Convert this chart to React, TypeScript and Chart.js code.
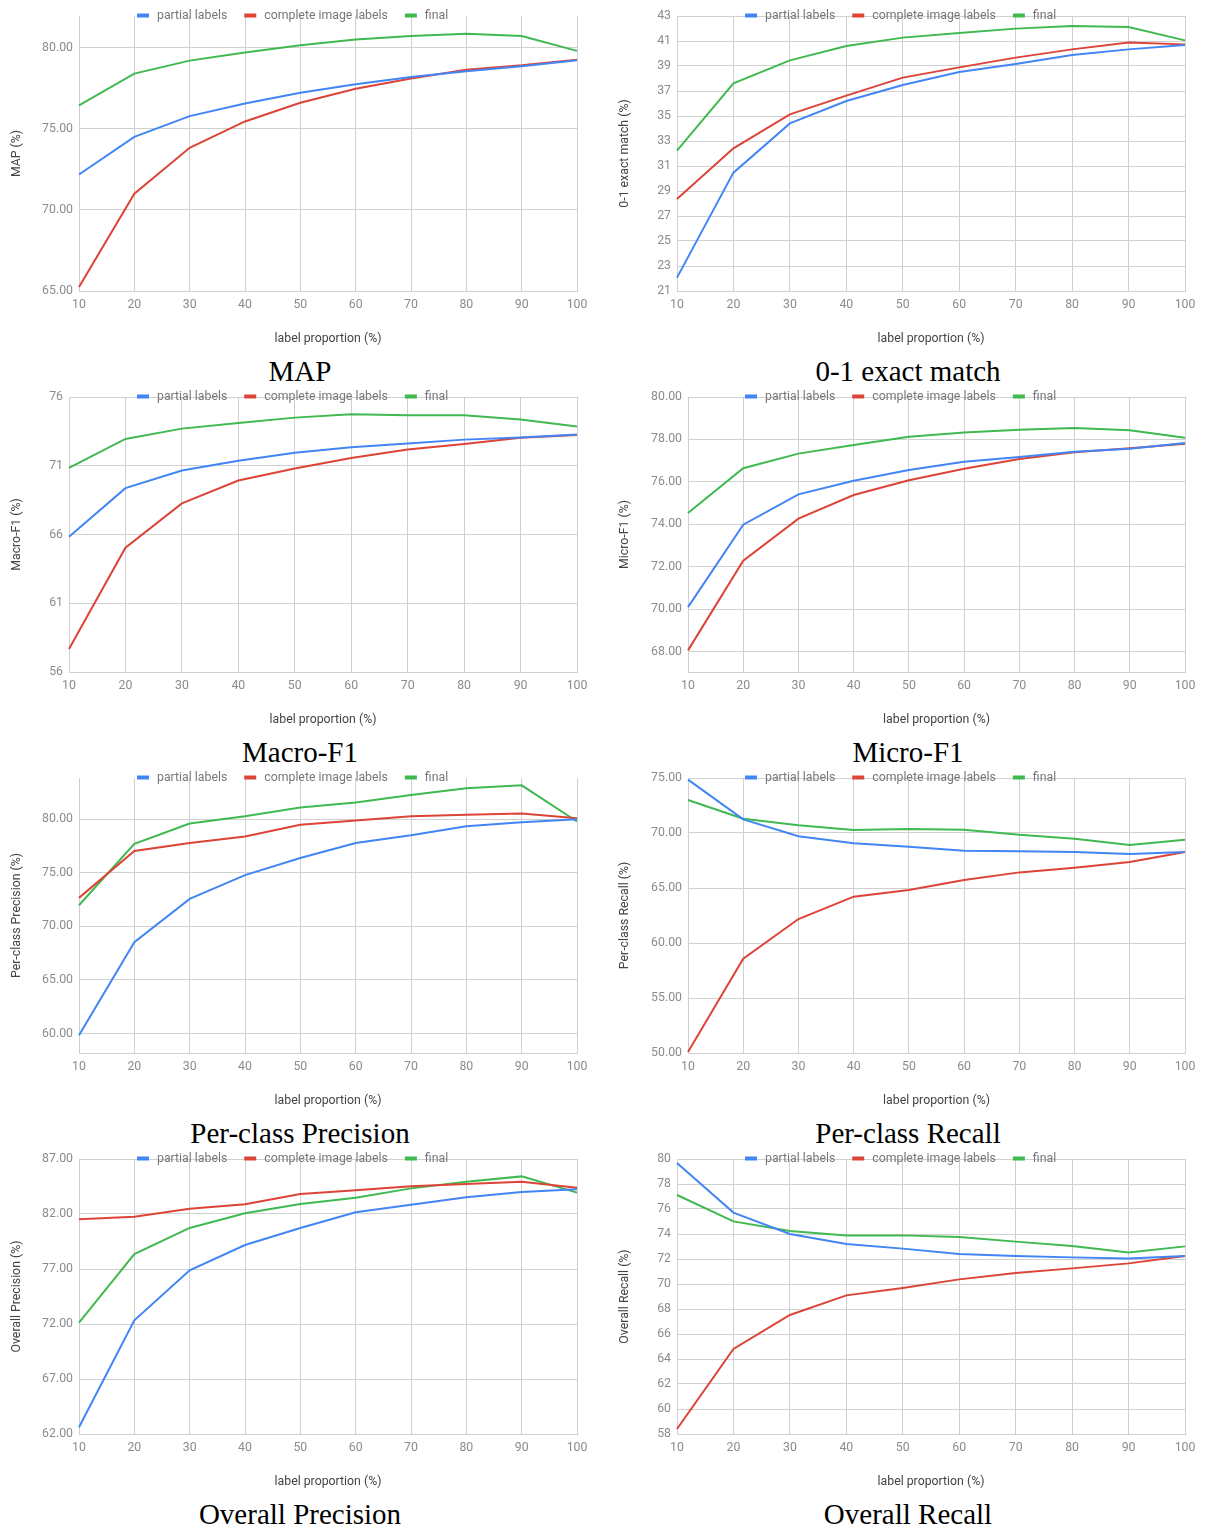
import React, { useEffect, useRef } from "react";
import { Chart, registerables } from "chart.js";

Chart.register(...registerables);

// ---------- data ----------
const X_LABELS = ["10", "20", "30", "40", "50", "60", "70", "80", "90", "100"];
const SERIES_NAMES = ["partial labels", "complete image labels", "final"];

const MAP_PARTIAL = [72.18, 74.5, 75.78, 76.56, 77.22, 77.74, 78.19, 78.54, 78.85, 79.22];
const MAP_COMPLETE = [65.25, 71.0, 73.83, 75.45, 76.6, 77.47, 78.1, 78.64, 78.91, 79.26];
const MAP_FINAL = [76.44, 78.4, 79.2, 79.7, 80.14, 80.5, 80.72, 80.86, 80.72, 79.8];

const EXACT_PARTIAL = [22.07, 30.47, 34.41, 36.2, 37.48, 38.52, 39.16, 39.88, 40.33, 40.68];
const EXACT_COMPLETE = [28.36, 32.41, 35.13, 36.63, 38.07, 38.89, 39.67, 40.33, 40.87, 40.73];
const EXACT_FINAL = [32.23, 37.61, 39.45, 40.6, 41.27, 41.64, 41.99, 42.2, 42.12, 41.05];

const MACRO_PARTIAL = [65.84, 69.37, 70.66, 71.36, 71.94, 72.35, 72.61, 72.9, 73.05, 73.27];
const MACRO_COMPLETE = [57.67, 65.04, 68.26, 69.93, 70.8, 71.57, 72.18, 72.59, 73.03, 73.24];
const MACRO_FINAL = [70.85, 72.95, 73.7, 74.11, 74.5, 74.74, 74.67, 74.67, 74.36, 73.85];

const MICRO_PARTIAL = [70.09, 73.98, 75.41, 76.05, 76.56, 76.95, 77.17, 77.42, 77.56, 77.83];
const MICRO_COMPLETE = [68.05, 72.28, 74.26, 75.38, 76.07, 76.62, 77.08, 77.39, 77.58, 77.8];
const MICRO_FINAL = [74.53, 76.64, 77.33, 77.74, 78.13, 78.32, 78.46, 78.54, 78.43, 78.08];

const PCP_PARTIAL = [59.84, 68.53, 72.56, 74.78, 76.38, 77.78, 78.5, 79.34, 79.72, 80.0];
const PCP_COMPLETE = [72.66, 77.03, 77.78, 78.38, 79.47, 79.88, 80.28, 80.41, 80.53, 80.09];
const PCP_FINAL = [71.97, 77.69, 79.59, 80.28, 81.09, 81.56, 82.25, 82.88, 83.16, 79.78];

const PCR_PARTIAL = [74.85, 71.24, 69.7, 69.06, 68.76, 68.39, 68.33, 68.27, 68.09, 68.27];
const PCR_COMPLETE = [50.09, 58.58, 62.18, 64.21, 64.82, 65.73, 66.42, 66.85, 67.36, 68.27];
const PCR_FINAL = [73.0, 71.3, 70.7, 70.27, 70.36, 70.3, 69.85, 69.48, 68.91, 69.39];

const OP_PARTIAL = [62.61, 72.33, 76.88, 79.18, 80.73, 82.15, 82.85, 83.52, 84.0, 84.24];
const OP_COMPLETE = [81.52, 81.76, 82.48, 82.88, 83.82, 84.15, 84.52, 84.73, 84.94, 84.39];
const OP_FINAL = [72.12, 78.36, 80.73, 82.06, 82.91, 83.48, 84.33, 84.94, 85.42, 83.94];

const OR_PARTIAL = [79.68, 75.71, 74.0, 73.2, 72.83, 72.4, 72.24, 72.13, 72.05, 72.24];
const OR_COMPLETE = [58.4, 64.8, 67.52, 69.09, 69.68, 70.37, 70.88, 71.25, 71.65, 72.24];
const OR_FINAL = [77.12, 75.01, 74.24, 73.89, 73.89, 73.76, 73.39, 73.04, 72.53, 73.01];

// ---------- style ----------
const COLORS = ["#4285F4", "#DC4437", "#3FB950"];
const GRID = "#d0d0d0";
const TICK_COLOR = "#8c8c8c";
const TITLE_COLOR = "#444444";
const LEGEND_COLOR = "#777777";
const FONT = "Roboto";
const FONT_SIZE = 12.3;

type Spec = {
  caption: string;
  yTitle: string;
  series: number[][];
  min: number;
  max: number;
  step: number;
  decimals: number;
  axisW: number;
  col: number;
  row: number;
};

const SPECS: Spec[] = [
  { caption: "MAP", yTitle: "MAP (%)", series: [MAP_PARTIAL, MAP_COMPLETE, MAP_FINAL], min: 65, max: 81.95, step: 5, decimals: 2, axisW: 79, col: 0, row: 0 },
  { caption: "0-1 exact match", yTitle: "0-1 exact match (%)", series: [EXACT_PARTIAL, EXACT_COMPLETE, EXACT_FINAL], min: 21, max: 43, step: 2, decimals: 0, axisW: 69, col: 1, row: 0 },
  { caption: "Macro-F1", yTitle: "Macro-F1 (%)", series: [MACRO_PARTIAL, MACRO_COMPLETE, MACRO_FINAL], min: 56, max: 76, step: 5, decimals: 0, axisW: 69, col: 0, row: 1 },
  { caption: "Micro-F1", yTitle: "Micro-F1 (%)", series: [MICRO_PARTIAL, MICRO_COMPLETE, MICRO_FINAL], min: 67.03, max: 80, step: 2, decimals: 2, axisW: 80, col: 1, row: 1 },
  { caption: "Per-class Precision", yTitle: "Per-class Precision (%)", series: [PCP_PARTIAL, PCP_COMPLETE, PCP_FINAL], min: 58.19, max: 83.84, step: 5, decimals: 2, axisW: 79, col: 0, row: 2 },
  { caption: "Per-class Recall", yTitle: "Per-class Recall (%)", series: [PCR_PARTIAL, PCR_COMPLETE, PCR_FINAL], min: 50, max: 75, step: 5, decimals: 2, axisW: 80, col: 1, row: 2 },
  { caption: "Overall Precision", yTitle: "Overall Precision (%)", series: [OP_PARTIAL, OP_COMPLETE, OP_FINAL], min: 62, max: 87, step: 5, decimals: 2, axisW: 79, col: 0, row: 3 },
  { caption: "Overall Recall", yTitle: "Overall Recall (%)", series: [OR_PARTIAL, OR_COMPLETE, OR_FINAL], min: 58, max: 80, step: 2, decimals: 0, axisW: 69, col: 1, row: 3 },
];

const COL_X = [0, 608];
const ROW_PITCH = 381;
const ROW_OFFSET = 1;
const CANVAS_W = 597;
const CANVAS_H = 345;

const topLegend = {
  id: "topLegend",
  afterDatasetsDraw(chart: any, _args: any, opts: any) {
    const { ctx, chartArea } = chart;
    ctx.save();
    ctx.font = `${FONT_SIZE}px ${FONT}`;
    ctx.textBaseline = "middle";
    ctx.textAlign = "left";
    let x = opts.startX;
    const y = chartArea.top;
    chart.data.datasets.forEach((ds: any) => {
      ctx.fillStyle = ds.borderColor;
      ctx.fillRect(x, y - 2.5, 12, 4);
      x += 20;
      ctx.fillStyle = opts.color;
      ctx.fillText(ds.label, x, y);
      x += ctx.measureText(ds.label).width + 17;
    });
    ctx.restore();
  },
};

function LineCell({ spec }: { spec: Spec }) {
  const ref = useRef<HTMLCanvasElement | null>(null);
  useEffect(() => {
    if (!ref.current) return;
    const chart = new Chart(ref.current, {
      type: "line",
      data: {
        labels: X_LABELS,
        datasets: spec.series.map((d, i) => ({
          label: SERIES_NAMES[i],
          data: d,
          borderColor: COLORS[i],
          backgroundColor: COLORS[i],
          borderWidth: 2,
          pointRadius: 0,
          tension: 0,
          fill: false,
        })),
      },
      options: {
        responsive: false,
        animation: false,
        layout: { padding: { top: 15, right: 20, bottom: 0, left: 0 } },
        scales: {
          x: {
            grid: { color: GRID, drawTicks: false, lineWidth: 1 },
            border: { color: GRID },
            ticks: { color: TICK_COLOR, padding: 7, font: { family: FONT, size: FONT_SIZE }, maxRotation: 0, autoSkip: false },
            title: {
              display: true,
              text: "label proportion (%)",
              color: TITLE_COLOR,
              font: { family: FONT, size: FONT_SIZE },
              padding: { top: 0, bottom: 0 },
            },
            afterFit(scale: any) {
              scale.height = 55;
            },
          },
          y: {
            min: spec.min,
            max: spec.max,
            grid: { color: GRID, drawTicks: false, lineWidth: 1 },
            border: { color: GRID },
            ticks: {
              stepSize: spec.step,
              includeBounds: false,
              color: TICK_COLOR,
              padding: 6,
              font: { family: FONT, size: FONT_SIZE },
              callback: (v: any) => Number(v).toFixed(spec.decimals),
            },
            title: {
              display: true,
              text: spec.yTitle,
              color: TITLE_COLOR,
              font: { family: FONT, size: FONT_SIZE },
              padding: { top: 10, bottom: 0 },
            },
            afterFit(scale: any) {
              scale.width = spec.axisW;
            },
          },
        },
        plugins: {
          legend: { display: false },
          tooltip: { enabled: false },
          topLegend: { startX: 137, color: LEGEND_COLOR },
        } as any,
      },
      plugins: [topLegend],
    });
    return () => chart.destroy();
  }, [spec]);

  const left = COL_X[spec.col];
  const top = spec.row * ROW_PITCH + ROW_OFFSET;
  return (
    <>
      <canvas
        ref={ref}
        width={CANVAS_W}
        height={CANVAS_H}
        style={{ position: "absolute", left, top, width: CANVAS_W, height: CANVAS_H }}
      />
      <div
        style={{
          position: "absolute",
          left: left,
          top: top + 356,
          width: 600,
          textAlign: "center",
          fontFamily: "'Liberation Serif', 'Times New Roman', serif",
          fontSize: 29,
          lineHeight: "29px",
          color: "#000",
          whiteSpace: "nowrap",
        }}
      >
        {spec.caption}
      </div>
    </>
  );
}

export default function App() {
  return (
    <div style={{ position: "absolute", left: 0, top: 0, width: 1207, height: 1527, background: "#fff" }}>
      {SPECS.map((s) => (
        <LineCell key={s.caption} spec={s} />
      ))}
    </div>
  );
}
